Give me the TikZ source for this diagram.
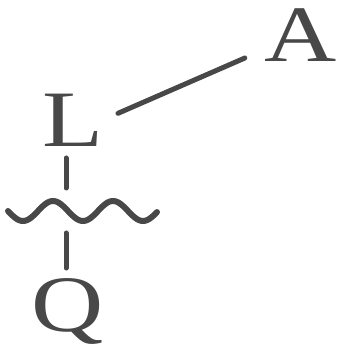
\documentclass[tikz,border=0pt]{standalone}
\usepackage{fontspec}
\setmainfont{Liberation Serif}
\usepackage{tikz, graphicx}
\definecolor{tinte}{RGB}{72,72,72}

\begin{document}
\begin{tikzpicture}[letter/.style={inner sep=0pt, outer sep=0pt, anchor=base, text=tinte,
			font=\fontsize{80}{82}\selectfont},
			bond/.style={draw=tinte, line width=5pt, line cap=round},
			x=1pt, y=1pt]
			%Rahmen
			\useasboundingbox (0,0) rectangle (338,347);
			%Buchstaben setzen
			\node[letter] (A) at (300.5,285) {\scalebox{1.25}[1]{A}};
			\node[letter] (L) at (73,200) {\scalebox{1.25}[1]{L}};
			\node[letter] (Q) at (68,16) {\scalebox{1.25}[1]{Q}};
			\coordinate (w) at (66,136);
			%Bindungen zeichnen
			\draw[bond] ([xshift=14.5pt,yshift=7.5pt]L.east) -- ([xshift=-19.5pt,yshift=4pt]A.south west);
			\draw[bond] ([xshift=-7pt,yshift=-11pt]L.south) -- ([yshift=23pt]w);
			\draw[bond] ([yshift=-22pt]w) -- ([xshift=-2pt,yshift=10pt]Q.north);
			%Welle
			\draw[bond, line width=6pt, shift={(w)}, domain=-58:91, samples=120] plot (\x, {10*cos(6*(\x+13))});
		\end{tikzpicture}
\end{document}
